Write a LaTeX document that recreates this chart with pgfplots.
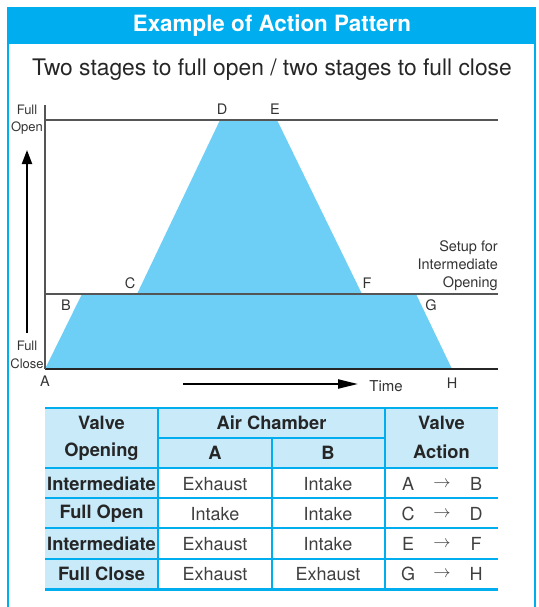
\documentclass[border=0pt]{standalone}
\usepackage{fontspec}
\setmainfont{TeX Gyre Heros}
\usepackage{pgfplots}
\pgfplotsset{compat=1.18}
\usetikzlibrary{arrows.meta}
\definecolor{barblue}{HTML}{00AEEF}
\definecolor{fillblue}{HTML}{6DCFF6}
\definecolor{headblue}{HTML}{C8EAF9}
\definecolor{linegray}{HTML}{555555}
\newcommand\fs[1]{\fontsize{#1}{#1}\selectfont}

\begin{document}
\begin{tikzpicture}[x=1pt,y=1pt]
\useasboundingbox (0,0) rectangle (538,-607);
% frame and titles
\fill[barblue] (7,-7) rectangle (536,-44);
\draw[barblue,line width=2pt] (8,-44) -- (8,-612) (535,-44) -- (535,-612);
\node[text=white,font=\fs{22.4}\bfseries] at (272,-26) {Example of Action Pattern};
\node[text=black!85,font=\fs{22.8}] at (272,-70) {Two stages to full open / two stages to full close};

% valve opening vs time (x: px from y axis, y: px above full close)
\begin{axis}[scale only axis,width=453pt,height=264pt,at={(45pt,-369pt)},anchor=south west,
  xmin=0,xmax=453,ymin=0,ymax=264,axis lines=none,clip=false]
\addplot[fill=fillblue,draw=none] coordinates
  {(0,0)(37,75)(92,75)(175,249)(232,249)(317,75)(371,75)(407,0)} -- cycle;
\addplot[linegray,line width=1.3pt] coordinates {(0,249)(453,249)};
\addplot[linegray,line width=1.3pt] coordinates {(0,75)(453,75)};
\addplot[black!85,line width=1.8pt] coordinates {(0,0)(453,0)};
\addplot[linegray,line width=1.5pt] coordinates {(0,0)(0,264)};
\end{axis}

\begin{scope}[every node/.style={text=black!80,font=\fs{14.5}}]
\node at (45,-381) {A};
\node at (66,-305) {B};
\node at (130,-283) {C};
\node at (222,-109) {D};
\node at (275,-109) {E};
\node at (367,-283) {F};
\node at (431,-305) {G};
\node at (452,-383) {H};
\node[font=\fs{15}] at (386,-386) {Time};
\node[align=right,anchor=north east,inner sep=0pt,font=\fs{14.5}\linespread{1.25}\selectfont] at (498,-240) {Setup for\\Intermediate\\Opening};
\node[font=\fs{13}] at (27,-110) {Full};
\node[font=\fs{13}] at (27,-128) {Open};
\node[font=\fs{13}] at (27,-346) {Full};
\node[font=\fs{13}] at (27,-364) {Close};
\end{scope}
\draw[black,line width=2.2pt,-{Triangle[length=14pt,width=10pt]}] (27,-333) -- (27,-150);
\draw[black,line width=2.2pt,-{Triangle[length=20pt,width=9pt]}] (183,-384) -- (358,-384);

% table
\fill[headblue] (45,-408) rectangle (498,-468);
\fill[headblue] (45,-468) rectangle (158,-589);
\draw[barblue,line width=1.3pt]
  (158,-408) -- (158,-589) (385,-408) -- (385,-589) (272,-438) -- (272,-589)
  (158,-438) -- (385,-438)
  (45,-498) -- (498,-498) (45,-528) -- (498,-528) (45,-559) -- (498,-559);
\draw[barblue,line width=2.6pt] (45,-408) -- (498,-408) (45,-468) -- (498,-468);
\draw[barblue,line width=3pt] (45,-589) -- (498,-589);
\begin{scope}[every node/.style={text=black!85,font=\fs{18.3}\bfseries}]
\node at (101.5,-423) {Valve};
\node at (101.5,-452) {Opening};
\node at (271.5,-423) {Air Chamber};
\node at (215,-453) {A};
\node at (328,-453) {B};
\node at (441.5,-423) {Valve};
\node at (441.5,-452) {Action};
\node at (101.5,-484) {Intermediate};
\node at (101.5,-514) {Full Open};
\node at (101.5,-544) {Intermediate};
\node at (101.5,-574) {Full Close};
\end{scope}
\begin{scope}[every node/.style={text=black!75,font=\fs{18}}]
\node at (215,-484) {Exhaust};
\node at (328,-484) {Intake};
\node at (215,-514) {Intake};
\node at (328,-514) {Intake};
\node at (215,-544) {Exhaust};
\node at (328,-544) {Intake};
\node at (215,-574) {Exhaust};
\node at (328,-574) {Exhaust};
\foreach \y/\a/\b in {484/A/B,514/C/D,544/E/F,574/G/H}{
  \node at (408,-\y) {\a};
  \node at (442,-\y) {$\rightarrow$};
  \node at (476,-\y) {\b};
}
\end{scope}
\end{tikzpicture}
\end{document}
